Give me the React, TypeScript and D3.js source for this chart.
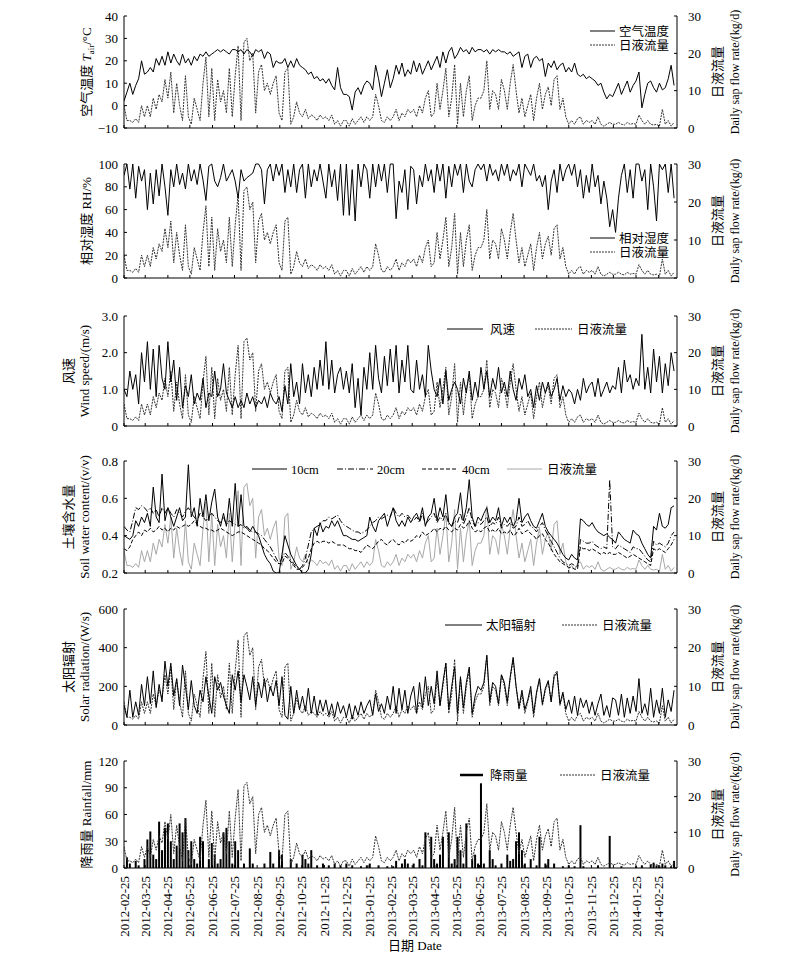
import React from "react";
import * as d3 from "d3";

// ---------------- data (4-day sampling from 2012-02-25) ----------------
const startDate = "2012-02-25";
const endDate = "2014-03-22";
const stepDays = 4;

const dateTicks = [
  "2012-02-25", "2012-03-25", "2012-04-25", "2012-05-25", "2012-06-25", "2012-07-25",
  "2012-08-25", "2012-09-25", "2012-10-25", "2012-11-25", "2012-12-25", "2013-01-25",
  "2013-02-25", "2013-03-25", "2013-04-25", "2013-05-25", "2013-06-25", "2013-07-25",
  "2013-08-25", "2013-09-25", "2013-10-25", "2013-11-25", "2013-12-25", "2014-01-25",
  "2014-02-25",
];

const sapTicks = [0, 10, 20, 30];
const tempTicks = [-10, 0, 10, 20, 30, 40];
const rhTicks = [0, 20, 40, 60, 80, 100];
const windTicks = [0, 1, 2, 3];
const soilTicks = [0.2, 0.4, 0.6, 0.8];
const solarTicks = [0, 200, 400, 600];
const rainTicks = [0, 30, 60, 90, 120];

// daily sap flow rate (kg/d)
const sapFlow = [
  6, 2, 2, 1.5, 2.5, 1.5, 6, 3,
  6, 3, 8, 5, 9, 7, 13,
  8, 15, 4, 12, 6, 2, 14, 3,
  1, 8, 5, 2, 12, 19, 3, 16,
  2, 13, 7, 10, 4, 16, 3,
  14, 22, 2, 23, 24, 18, 20, 4,
  15, 17, 10, 12, 9, 12, 14, 4,
  2, 15, 16, 1, 3, 7, 4,
  3, 5, 2.5, 3.5, 3, 2, 3.5, 2.5,
  3, 2, 3.5, 1, 2, 0.5, 2,
  2, 0.5, 2.5, 1, 2, 3, 1.5, 3,
  2, 3, 9, 6, 2, 1.5, 3, 2,
  3, 5, 2, 4, 3, 5, 4,
  5, 3, 6, 4, 8, 10, 3, 4,
  12, 5, 10, 16, 3, 8, 17,
  1, 12, 3, 10, 14, 2, 6, 8,
  8, 10, 18, 5, 10, 9, 5, 13,
  10, 5, 12, 17, 10, 4, 8,
  3, 6, 9, 2, 8, 12, 5, 9,
  11, 6, 13, 14, 5, 8, 3, 1,
  2, 1, 2.5, 3, 1, 2, 1.5,
  2, 1, 3, 1, 0.5, 1, 1.5, 1,
  1, 1.5, 1, 0.8, 1.5, 1, 1.2, 1,
  3.5, 2, 1, 2, 1, 0.8, 1,
  0.5, 5, 1, 2, 0.5, 1.5,
];

// air temperature (°C)
const airTemp = [
  2, 6, 10, 5, 9, 12, 20, 14,
  15, 17, 15, 21, 18, 22, 18,
  24, 19, 23, 20, 18, 23, 19, 21,
  18, 22, 20, 23, 22, 24, 22, 23,
  24, 25, 24, 25, 24, 23, 25,
  25, 24, 25, 23, 25, 24, 22, 25,
  24, 25, 21, 24, 23, 17, 20, 19,
  19, 21, 17, 20, 17, 21, 18,
  17, 16, 14, 15, 12, 13, 11, 12,
  10, 12, 9, 7, 17, 8, 5,
  5, 4, -2, 6, 8, 5, 9, 11,
  10, 7, 18, 12, 4, 10, 16, 8,
  12, 18, 14, 19, 13, 16, 14,
  20, 15, 19, 14, 17, 20, 16, 19,
  22, 17, 24, 19, 24, 26, 21,
  23, 26, 24, 25, 23, 26, 24, 25,
  25, 24, 25, 23, 25, 24, 25, 24,
  24, 23, 24, 22, 23, 24, 17,
  22, 23, 17, 21, 22, 20, 21, 13,
  19, 17, 20, 16, 18, 19, 15, 17,
  15, 19, 14, 13, 14, 12, 13,
  12, 11, 9, 10, 6, 3, 5, 4,
  7, 10, 5, 8, 11, 6, 9, 11,
  15, -1, 5, 10, 11, 8, 6,
  10, 7, 8, 12, 18, 9,
];

// relative humidity (%)
const relHumidity = [
  90, 100, 78, 100, 70, 98, 85, 95,
  60, 92, 65, 95, 72, 100, 80,
  55, 95, 80, 100, 82, 92, 78, 100,
  85, 95, 82, 100, 86, 68, 98, 100,
  85, 80, 88, 100, 85, 90, 95,
  85, 70, 95, 85, 88, 90, 92, 100,
  100, 95, 65, 95, 100, 85, 100, 90,
  100, 75, 95, 80, 100, 75, 95,
  100, 70, 100, 80, 95, 85, 100, 85,
  70, 100, 80, 95, 68, 100, 55,
  100, 55, 95, 50, 100, 80, 100, 95,
  70, 100, 80, 100, 85, 100, 75, 100,
  100, 52, 85, 75, 95, 60, 98,
  95, 65, 90, 80, 100, 85, 95, 75,
  100, 85, 100, 70, 98, 80, 100,
  90, 100, 75, 100, 85, 80, 95, 100,
  95, 100, 85, 100, 90, 95, 85, 100,
  90, 100, 85, 95, 90, 100, 80,
  100, 95, 90, 100, 85, 90, 80, 90,
  60, 85, 95, 75, 100, 85, 95, 100,
  90, 100, 80, 95, 70, 90, 75,
  100, 80, 90, 65, 85, 70, 45, 60,
  40, 70, 90, 100, 75, 95, 70, 100,
  100, 85, 95, 60, 100, 80, 50,
  100, 95, 100, 75, 100, 70,
];

// wind speed (m/s)
const windSpeed = [
  1.0, 0.8, 1.5, 1.0, 1.4, 0.6, 2.0, 1.2,
  2.3, 1.0, 2.1, 0.8, 2.2, 1.3, 1.0,
  2.3, 1.2, 1.8, 0.7, 1.6, 0.5, 1.1, 0.8,
  1.4, 0.6, 0.9, 0.7, 1.3, 0.5, 0.9, 0.8,
  1.5, 0.8, 1.0, 1.7, 0.9, 0.7, 0.5,
  0.8, 0.5, 0.7, 0.5, 0.9, 0.6, 0.8, 0.5,
  0.7, 0.6, 0.8, 0.5, 0.9, 0.7, 0.6, 0.8,
  0.4, 1.1, 0.6, 1.7, 0.8, 1.2, 0.6,
  1.7, 0.9, 1.4, 0.8, 1.6, 1.0, 1.8, 1.1,
  2.3, 1.0, 1.8, 0.9, 1.4, 1.6, 1.0,
  1.5, 0.9, 1.7, 0.5, 1.3, 0.3, 1.6, 1.0,
  2.0, 1.0, 2.2, 1.3, 0.9, 1.9, 1.1, 2.1,
  1.2, 2.2, 0.9, 1.8, 1.2, 2.2, 1.0,
  0.9, 1.8, 1.0, 1.4, 0.8, 2.2, 1.5, 1.0,
  0.8, 1.3, 0.6, 1.5, 0.7, 1.0, 1.2,
  1.0, 0.6, 1.3, 0.9, 1.5, 0.7, 1.2, 0.8,
  1.6, 1.0, 1.5, 0.8, 1.3, 1.0, 1.6, 0.9,
  1.2, 0.8, 1.5, 1.0, 0.7, 1.3, 1.0,
  1.4, 0.8, 1.0, 0.5, 1.1, 0.7, 1.2, 0.9,
  1.2, 0.8, 1.0, 1.3, 0.7, 1.1, 0.8, 1.0,
  0.9, 0.6, 1.0, 0.7, 1.3, 0.9, 1.1,
  1.2, 0.8, 1.3, 0.8, 1.0, 1.2, 0.9, 1.1,
  1.0, 1.6, 0.9, 1.8, 1.2, 1.4, 1.0, 1.3,
  1.1, 2.5, 1.0, 1.6, 0.9, 2.1, 1.2,
  1.9, 0.9, 1.7, 1.1, 2.0, 1.5,
];

// soil water content (v/v)
const soil10cm = [
  0.40, 0.39, 0.38, 0.40, 0.48, 0.45, 0.50, 0.47,
  0.52, 0.45, 0.66, 0.50, 0.47, 0.73, 0.48,
  0.55, 0.50, 0.45, 0.50, 0.55, 0.48, 0.50, 0.78,
  0.50, 0.55, 0.45, 0.60, 0.50, 0.62, 0.48, 0.58,
  0.65, 0.50, 0.45, 0.52, 0.45, 0.60, 0.45,
  0.68, 0.45, 0.62, 0.45, 0.44, 0.42, 0.45, 0.42,
  0.40, 0.35, 0.30, 0.27, 0.25, 0.21, 0.20, 0.20,
  0.30, 0.40, 0.35, 0.30, 0.27, 0.24, 0.22,
  0.20, 0.20, 0.22, 0.30, 0.44, 0.40, 0.47, 0.42,
  0.45, 0.44, 0.48, 0.45, 0.48, 0.44, 0.40,
  0.40, 0.39, 0.38, 0.38, 0.37, 0.38, 0.39, 0.40,
  0.50, 0.45, 0.42, 0.48, 0.50, 0.52, 0.45, 0.50,
  0.55, 0.48, 0.45, 0.48, 0.45, 0.50, 0.47,
  0.50, 0.52, 0.48, 0.55, 0.45, 0.50, 0.52, 0.60,
  0.48, 0.55, 0.50, 0.62, 0.47, 0.45, 0.50,
  0.52, 0.63, 0.48, 0.55, 0.70, 0.50, 0.45, 0.50,
  0.48, 0.52, 0.55, 0.47, 0.50, 0.48, 0.55, 0.45,
  0.50, 0.47, 0.50, 0.45, 0.48, 0.60, 0.47,
  0.50, 0.52, 0.48, 0.45, 0.44, 0.48, 0.52, 0.45,
  0.42, 0.40, 0.38, 0.36, 0.33, 0.30, 0.28, 0.27,
  0.30, 0.28, 0.27, 0.49, 0.48, 0.46, 0.45,
  0.47, 0.44, 0.42, 0.41, 0.40, 0.41, 0.39, 0.38,
  0.36, 0.42, 0.40, 0.38, 0.37, 0.36, 0.43, 0.41,
  0.40, 0.36, 0.33, 0.30, 0.28, 0.45, 0.43,
  0.52, 0.45, 0.44, 0.46, 0.55, 0.56,
];

const soil20cm = [
  0.45, 0.43, 0.42, 0.48, 0.55, 0.54, 0.56, 0.55,
  0.53, 0.55, 0.52, 0.54, 0.50, 0.55, 0.52,
  0.55, 0.52, 0.50, 0.54, 0.52, 0.50, 0.53, 0.55,
  0.52, 0.50, 0.48, 0.52, 0.50, 0.48, 0.50, 0.52,
  0.50, 0.48, 0.47, 0.50, 0.46, 0.48, 0.47,
  0.46, 0.45, 0.46, 0.44, 0.45, 0.43, 0.42, 0.42,
  0.41, 0.40, 0.38, 0.36, 0.34, 0.31, 0.28, 0.25,
  0.28, 0.31, 0.29, 0.27, 0.25, 0.23, 0.22,
  0.24, 0.28, 0.35, 0.42, 0.44, 0.45, 0.46, 0.48,
  0.48, 0.50, 0.49, 0.50, 0.51, 0.48, 0.46,
  0.45, 0.44, 0.43, 0.42, 0.42, 0.41, 0.42, 0.43,
  0.45, 0.47, 0.48, 0.50, 0.49, 0.50, 0.51, 0.50,
  0.55, 0.52, 0.50, 0.52, 0.50, 0.51, 0.49,
  0.48, 0.50, 0.47, 0.52, 0.46, 0.48, 0.50, 0.52,
  0.47, 0.50, 0.48, 0.52, 0.46, 0.45, 0.48,
  0.47, 0.52, 0.46, 0.50, 0.55, 0.48, 0.45, 0.47,
  0.46, 0.48, 0.50, 0.45, 0.47, 0.46, 0.50, 0.44,
  0.46, 0.45, 0.47, 0.44, 0.45, 0.50, 0.45,
  0.46, 0.48, 0.45, 0.44, 0.42, 0.45, 0.47, 0.43,
  0.40, 0.37, 0.34, 0.31, 0.28, 0.26, 0.25, 0.24,
  0.25, 0.24, 0.23, 0.38, 0.37, 0.36, 0.36,
  0.37, 0.35, 0.34, 0.33, 0.34, 0.33, 0.70, 0.34,
  0.33, 0.35, 0.34, 0.33, 0.32, 0.31, 0.34, 0.33,
  0.33, 0.31, 0.29, 0.27, 0.26, 0.37, 0.35,
  0.36, 0.35, 0.34, 0.36, 0.40, 0.42,
];

const soil40cm = [
  0.33, 0.32, 0.34, 0.38, 0.40, 0.42, 0.40, 0.43,
  0.42, 0.44, 0.42, 0.43, 0.45, 0.43, 0.44,
  0.42, 0.44, 0.43, 0.45, 0.44, 0.45, 0.46, 0.45,
  0.46, 0.48, 0.46, 0.45, 0.44, 0.44, 0.43, 0.43,
  0.42, 0.43, 0.44, 0.43, 0.42, 0.41, 0.40,
  0.41, 0.42, 0.42, 0.41, 0.40, 0.39, 0.38, 0.37,
  0.36, 0.35, 0.33, 0.32, 0.30, 0.28, 0.26, 0.25,
  0.25, 0.29, 0.28, 0.26, 0.24, 0.22, 0.22,
  0.23, 0.25, 0.28, 0.33, 0.36, 0.37, 0.36, 0.37,
  0.37, 0.36, 0.37, 0.36, 0.35, 0.35, 0.35,
  0.34, 0.33, 0.33, 0.32, 0.32, 0.31, 0.33, 0.35,
  0.34, 0.33, 0.35, 0.37, 0.38, 0.36, 0.35, 0.37,
  0.38, 0.36, 0.35, 0.37, 0.36, 0.38, 0.37,
  0.38, 0.40, 0.39, 0.42, 0.40, 0.41, 0.42, 0.44,
  0.42, 0.44, 0.43, 0.45, 0.43, 0.42, 0.44,
  0.43, 0.46, 0.44, 0.45, 0.48, 0.44, 0.42, 0.43,
  0.42, 0.44, 0.45, 0.42, 0.43, 0.42, 0.44, 0.41,
  0.42, 0.41, 0.43, 0.40, 0.41, 0.44, 0.41,
  0.42, 0.43, 0.41, 0.40, 0.38, 0.40, 0.41, 0.38,
  0.36, 0.33, 0.30, 0.28, 0.26, 0.25, 0.24, 0.23,
  0.23, 0.22, 0.22, 0.34, 0.33, 0.33, 0.32,
  0.33, 0.32, 0.31, 0.30, 0.31, 0.30, 0.31, 0.30,
  0.30, 0.31, 0.30, 0.29, 0.28, 0.29, 0.30, 0.29,
  0.28, 0.27, 0.26, 0.25, 0.24, 0.33, 0.32,
  0.33, 0.32, 0.31, 0.33, 0.35, 0.38,
];

// solar radiation (W/s)
const solarRad = [
  100, 40, 180, 40, 120, 50, 210, 100,
  250, 110, 280, 90, 210, 120, 330,
  200, 320, 150, 240, 100, 310, 200, 80,
  230, 100, 60, 180, 120, 250, 150, 60,
  250, 180, 220, 150, 100, 60, 260,
  180, 280, 120, 260, 200, 130, 250, 100,
  220, 140, 240, 120, 200, 150, 230, 100,
  250, 50, 30, 200, 60, 180, 80,
  150, 70, 190, 60, 150, 50, 130, 70,
  130, 50, 110, 40, 120, 60, 100,
  40, 110, 30, 100, 50, 120, 60, 100,
  130, 50, 160, 70, 110, 60, 150, 80,
  200, 60, 190, 80, 180, 60, 150,
  200, 60, 220, 90, 250, 100, 200, 110,
  280, 100, 220, 320, 80, 200, 300,
  60, 250, 90, 220, 300, 60, 150, 200,
  180, 220, 360, 120, 220, 200, 110, 260,
  220, 120, 250, 350, 200, 90, 180,
  80, 130, 200, 60, 170, 240, 110, 190,
  230, 120, 250, 270, 110, 170, 80, 130,
  60, 150, 50, 140, 90, 130, 60,
  120, 50, 110, 160, 50, 100, 40, 140,
  130, 50, 160, 40, 140, 60, 150, 70,
  240, 60, 110, 50, 190, 40, 130,
  60, 190, 40, 130, 70, 180,
];

// rainfall (mm)
const rainfall = [
  0, 12, 5, 0, 8, 3, 0, 10,
  32, 41, 15, 10, 52, 20, 45,
  50, 30, 10, 25, 50, 40, 56, 20,
  30, 10, 5, 35, 30, 0, 10, 28,
  15, 5, 10, 40, 45, 30, 5,
  30, 20, 0, 5, 0, 22, 5, 0,
  0, 0, 5, 0, 18, 5, 0, 20,
  15, 0, 0, 10, 0, 5, 0,
  15, 10, 5, 20, 0, 3, 0, 5,
  0, 3, 0, 5, 0, 3, 0,
  5, 0, 3, 0, 0, 2, 0, 3,
  5, 0, 0, 3, 0, 0, 2, 0,
  2, 8, 0, 5, 10, 5, 0,
  5, 0, 10, 3, 40, 0, 35, 10,
  5, 15, 35, 0, 40, 5, 10,
  35, 20, 5, 50, 0, 10, 15, 5,
  95, 5, 0, 20, 10, 3, 0, 5,
  0, 15, 8, 10, 30, 40, 20,
  5, 0, 10, 0, 3, 35, 0, 5,
  10, 0, 5, 0, 0, 2, 0, 3,
  0, 2, 0, 48, 2, 0, 0,
  0, 0, 3, 0, 0, 0, 36, 0,
  0, 0, 2, 0, 0, 0, 0, 2,
  0, 3, 0, 0, 4, 6, 3,
  2, 5, 3, 0, 2, 8,
];

// ---------------- drawing ----------------
const parse = d3.utcParse("%Y-%m-%d");
const t0 = parse(startDate) as Date;
const x = d3.scaleUtc().domain([t0, parse(endDate) as Date]).range([124, 677]);
const X0 = 124;
const X1 = 677;
const dateAt = (i: number) => d3.utcDay.offset(t0, i * stepDays);

const SERIF = "'Liberation Serif','Times New Roman',serif";
const CJK = "'Liberation Serif','Noto Sans CJK SC','Noto Sans CJK JP',serif";
const SAP_DASH = "2,1";
const SAP_COLOR = "#333";

type Line = { values: number[]; axis: "L" | "R"; stroke: string; dash?: string; width?: number };

function Panel(props: {
  id: string;
  top: number;
  bottom: number;
  domain: [number, number];
  ticks: number[];
  fmt: (v: number) => string;
  lines: Line[];
  bars?: number[];
}) {
  const { id, top, bottom, domain, ticks, fmt, lines, bars } = props;
  const yL = d3.scaleLinear().domain(domain).range([bottom, top]);
  const yR = d3.scaleLinear().domain([0, 30]).range([bottom, top]);
  const cy = (top + bottom) / 2;
  return (
    <g>
      <clipPath id={id}>
        <rect x={X0} y={top - 2} width={X1 - X0} height={bottom - top + 2} />
      </clipPath>
      <g clipPath={`url(#${id})`}>
        {bars &&
          bars.map((v, i) =>
            v > 0 ? (
              <rect key={i} x={x(dateAt(i)) - 1} y={yL(v)} width={2} height={bottom - yL(v)} fill="#000" />
            ) : null
          )}
        {lines.map((s, k) => {
          const ys = s.axis === "R" ? yR : yL;
          const gen = d3
            .line<number>()
            .x((_, i) => x(dateAt(i)))
            .y((d) => ys(d));
          return (
            <path
              key={k}
              d={gen(s.values) || ""}
              fill="none"
              stroke={s.stroke}
              strokeWidth={s.width ?? 1}
              strokeDasharray={s.dash}
              strokeLinejoin="round"
            />
          );
        })}
      </g>
      <line x1={X0} x2={X0} y1={top} y2={bottom} stroke="#000" />
      <line x1={X1} x2={X1} y1={top} y2={bottom} stroke="#000" />
      <line x1={X0} x2={X1} y1={bottom} y2={bottom} stroke="#000" />
      {ticks.map((v) => (
        <g key={"l" + v}>
          <line x1={X0} x2={X0 + 3} y1={yL(v)} y2={yL(v)} stroke="#000" />
          <text x={118} y={yL(v) + 4.5} textAnchor="end" fontSize={13} fontFamily={SERIF}>
            {fmt(v)}
          </text>
        </g>
      ))}
      {sapTicks.map((v) => (
        <g key={"r" + v}>
          <line x1={X1 - 3} x2={X1} y1={yR(v)} y2={yR(v)} stroke="#000" />
          <text x={688} y={yR(v) + 4.5} textAnchor="start" fontSize={13} fontFamily={SERIF}>
            {v}
          </text>
        </g>
      ))}
      {dateTicks.map((s) => {
        const xx = x(parse(s) as Date);
        return <line key={s} x1={xx} x2={xx} y1={bottom} y2={bottom - 3} stroke="#000" />;
      })}
      <text
        transform={`translate(722,${cy}) rotate(-90)`}
        textAnchor="middle"
        fontSize={13}
        fontFamily={CJK}
      >
        日液流量
      </text>
      <text
        transform={`translate(739,${cy}) rotate(-90)`}
        textAnchor="middle"
        fontSize={12}
        fontFamily={SERIF}
      >
        Daily sap flow rate/(kg/d)
      </text>
    </g>
  );
}

function LegendItem(props: { x1: number; x2: number; y: number; label: string; stroke: string; dash?: string; width?: number; tx: number }) {
  const { x1, x2, y, label, stroke, dash, width, tx } = props;
  return (
    <g>
      <line x1={x1} x2={x2} y1={y} y2={y} stroke={stroke} strokeDasharray={dash} strokeWidth={width ?? 1} />
      <text x={tx} y={y + 4.5} fontSize={12.5} fontFamily={CJK}>
        {label}
      </text>
    </g>
  );
}

function LeftTitle(props: { cy: number; lines: React.ReactNode[] }) {
  const { cy, lines } = props;
  const xs = lines.length === 1 ? [90.5] : [72.5, 88.5];
  return (
    <g>
      {lines.map((l, i) => (
        <text
          key={i}
          transform={`translate(${xs[i]},${cy}) rotate(-90)`}
          textAnchor="middle"
          fontSize={13}
          fontFamily={CJK}
        >
          {l}
        </text>
      ))}
    </g>
  );
}

const fmtInt = (v: number) => (v < 0 ? "\u2212" + Math.abs(v) : String(v));
const fmt1 = (v: number) => (v === 0 ? "0" : v.toFixed(1));

export default function App() {
  const sapLine: Line = { values: sapFlow, axis: "R", stroke: SAP_COLOR, dash: SAP_DASH };
  const P = [
    { top: 16, bottom: 128 },
    { top: 164, bottom: 278 },
    { top: 316, bottom: 426 },
    { top: 461, bottom: 573 },
    { top: 609, bottom: 725 },
    { top: 761, bottom: 868 },
  ];
  const cy = (k: number) => (P[k].top + P[k].bottom) / 2;
  return (
    <svg width={800} height={960} style={{ position: "absolute", left: 0, top: 0, background: "#fff" }}>
      <rect x={0} y={0} width={800} height={960} fill="#fff" />
      {/* Panel 1: air temperature */}
      <Panel
        id="c1"
        {...P[0]}
        domain={[-10, 40]}
        ticks={tempTicks}
        fmt={fmtInt}
        lines={[sapLine, { values: airTemp, axis: "L", stroke: "#000" }]}
      />
      <LeftTitle
        cy={cy(0)}
        lines={[
          <>
            空气温度 <tspan fontStyle="italic">T</tspan>
            <tspan fontSize={9} dy={3}>air</tspan>
            <tspan dy={-3}>/°C</tspan>
          </>,
        ]}
      />
      <LegendItem x1={590} x2={615} y={31} tx={619} label="空气温度" stroke="#000" />
      <LegendItem x1={590} x2={615} y={45} tx={619} label="日液流量" stroke={SAP_COLOR} dash={SAP_DASH} />

      {/* Panel 2: relative humidity */}
      <Panel
        id="c2"
        {...P[1]}
        domain={[0, 100]}
        ticks={rhTicks}
        fmt={fmtInt}
        lines={[sapLine, { values: relHumidity, axis: "L", stroke: "#000" }]}
      />
      <LeftTitle cy={cy(1)} lines={["相对湿度 RH/%"]} />
      <LegendItem x1={590} x2={615} y={238} tx={619} label="相对湿度" stroke="#000" />
      <LegendItem x1={590} x2={615} y={252} tx={619} label="日液流量" stroke={SAP_COLOR} dash={SAP_DASH} />

      {/* Panel 3: wind speed */}
      <Panel
        id="c3"
        {...P[2]}
        domain={[0, 3]}
        ticks={windTicks}
        fmt={fmt1}
        lines={[sapLine, { values: windSpeed, axis: "L", stroke: "#000" }]}
      />
      <LeftTitle cy={cy(2)} lines={["风速", "Wind speed/(m/s)"]} />
      <LegendItem x1={447} x2={483} y={329} tx={490} label="风速" stroke="#000" />
      <LegendItem x1={535} x2={572} y={329} tx={577} label="日液流量" stroke={SAP_COLOR} dash={SAP_DASH} />

      {/* Panel 4: soil water content */}
      <Panel
        id="c4"
        {...P[3]}
        domain={[0.2, 0.8]}
        ticks={soilTicks}
        fmt={fmt1}
        lines={[
          { values: sapFlow, axis: "R", stroke: "#a8a8a8" },
          { values: soil40cm, axis: "L", stroke: "#000", dash: "4,2" },
          { values: soil20cm, axis: "L", stroke: "#000", dash: "6,2,1,2" },
          { values: soil10cm, axis: "L", stroke: "#000" },
        ]}
      />
      <LeftTitle cy={cy(3)} lines={["土壤含水量", "Soil water content/(v/v)"]} />
      <LegendItem x1={252} x2={287} y={469} tx={291} label="10cm" stroke="#000" />
      <LegendItem x1={337} x2={373} y={469} tx={377} label="20cm" stroke="#000" dash="6,2,1,2" />
      <LegendItem x1={422} x2={458} y={469} tx={462} label="40cm" stroke="#000" dash="4,2" />
      <LegendItem x1={507} x2={542} y={469} tx={547} label="日液流量" stroke="#a8a8a8" />

      {/* Panel 5: solar radiation */}
      <Panel
        id="c5"
        {...P[4]}
        domain={[0, 600]}
        ticks={solarTicks}
        fmt={fmtInt}
        lines={[sapLine, { values: solarRad, axis: "L", stroke: "#000" }]}
      />
      <LeftTitle cy={cy(4)} lines={["太阳辐射", "Solar radiation/(W/s)"]} />
      <LegendItem x1={445} x2={482} y={625} tx={486} label="太阳辐射" stroke="#000" />
      <LegendItem x1={562} x2={597} y={625} tx={602} label="日液流量" stroke={SAP_COLOR} dash={SAP_DASH} />

      {/* Panel 6: rainfall */}
      <Panel
        id="c6"
        {...P[5]}
        domain={[0, 120]}
        ticks={rainTicks}
        fmt={fmtInt}
        bars={rainfall}
        lines={[sapLine]}
      />
      <LeftTitle cy={cy(5)} lines={["降雨量 Rainfall/mm"]} />
      <LegendItem x1={460} x2={483} y={775} tx={490} label="降雨量" stroke="#000" width={2.5} />
      <LegendItem x1={560} x2={595} y={775} tx={600} label="日液流量" stroke={SAP_COLOR} dash={SAP_DASH} />

      {/* date axis labels */}
      {dateTicks.map((s) => {
        const xx = x(parse(s) as Date);
        return (
          <text
            key={s}
            transform={`translate(${xx + 4.5},876) rotate(-90)`}
            textAnchor="end"
            fontSize={13}
            fontFamily={SERIF}
          >
            {s}
          </text>
        );
      })}
      <text x={415} y={950} textAnchor="middle" fontSize={13} fontFamily={CJK}>
        日期 Date
      </text>
    </svg>
  );
}
